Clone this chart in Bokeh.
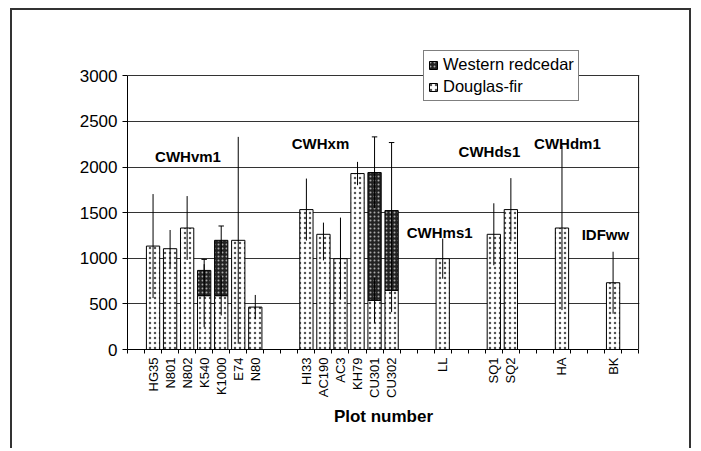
import math
from bokeh.plotting import figure
from bokeh.models import ColumnDataSource, FixedTicker, Range1d, Legend, LegendItem, Label
from bokeh.embed import file_html
from bokeh.resources import INLINE
from bokeh.core.properties import value

# ---- data ----
categories = ["", "HG35", "N801", "N802", "K540", "K1000", "E74", "N80", "", "",
              "HI33", "AC190", "AC3", "KH79", "CU301", "CU302", "", "", "LL", "", "",
              "SQ1", "SQ2", "", "", "HA", "", "", "BK", ""]
plots = ["HG35", "N801", "N802", "K540", "K1000", "E74", "N80", "HI33", "AC190", "AC3",
         "KH79", "CU301", "CU302", "LL", "SQ1", "SQ2", "HA", "BK"]
douglas_fir = [1134, 1105, 1332, 590, 590, 1197, 465, 1534, 1263, 996,
               1929, 538, 648, 996, 1263, 1534, 1332, 732]
western_redcedar = [0, 0, 0, 277, 607, 0, 0, 0, 0, 0,
                    0, 1402, 875, 0, 0, 0, 0, 0]
df_err_low = [570, 205, 350, 345, 217, 1134, 133, 340, 286, 450,
              128, 250, 238, 220, 340, 345, 900, 340]
df_err_high = [570, 205, 350, 345, 217, 1134, 133, 340, 128, 450,
               128, 250, 238, 220, 340, 345, 900, 340]
wrc_err = [0, 0, 0, 121, 157, 0, 0, 0, 0, 0,
           0, 391, 746, 0, 0, 0, 0, 0]
zones = ["CWHvm1", "CWHxm", "CWHms1", "CWHds1", "CWHdm1", "IDFww"]
zone_x = [3.55, 11.33, 18.32, 21.24, 25.82, 28.05]
zone_y = [2119, 2259, 1279, 2174, 2262, 1263]
y_ticks = [0, 500, 1000, 1500, 2000, 2500, 3000]
y_max = 3000

FONT = "Liberation Sans"
n_cat = len(categories)

xpos = [categories.index(name) + 0.5 for name in plots]

df_src = ColumnDataSource(dict(
    x=xpos, top=douglas_fir,
    lo=[d - l for d, l in zip(douglas_fir, df_err_low)],
    hi=[d + h for d, h in zip(douglas_fir, df_err_high)],
))
wi = [i for i, w in enumerate(western_redcedar) if w > 0]
wrc_src = ColumnDataSource(dict(
    x=[xpos[i] for i in wi],
    bottom=[douglas_fir[i] for i in wi],
    top=[douglas_fir[i] + western_redcedar[i] for i in wi],
    lo=[douglas_fir[i] + western_redcedar[i] - wrc_err[i] for i in wi],
    hi=[douglas_fir[i] + western_redcedar[i] + wrc_err[i] for i in wi],
    cx0=[xpos[i] - 0.16 for i in wi],
    cx1=[xpos[i] + 0.16 for i in wi],
))

# outer chart frame drawn as a CSS border of the figure element
frame_css = {"border-top": "2px solid #333333", "border-left": "2px solid #333333",
             "border-right": "2px solid #333333"}

p = figure(width=681, height=440, x_range=Range1d(0, n_cat + 0.05), y_range=Range1d(0, y_max * 1.1),
           output_backend="svg", toolbar_location=None,
           min_border_left=115, min_border_right=54, min_border_top=38, min_border_bottom=101,
           margin=(8, 0, 0, 10), styles=frame_css)

p.outline_line_color = None
p.xgrid.visible = False
p.ygrid.ticker = FixedTicker(ticks=y_ticks)
p.ygrid.grid_line_color = "#333333"
p.ygrid.grid_line_width = 1

# right border of the plot area
p.segment(x0=[n_cat], y0=[0], x1=[n_cat], y1=[y_max], line_color="black", line_width=1)

# bars
df_r = p.vbar(x="x", top="top", bottom=0, width=0.78, source=df_src,
              fill_color="white", line_color="black", line_width=1,
              hatch_pattern="dot", hatch_color="#555555", hatch_scale=5, hatch_weight=1)
wrc_r = p.vbar(x="x", top="top", bottom="bottom", width=0.78, source=wrc_src,
               fill_color="#222222", line_color="black", line_width=1,
               hatch_pattern="dot", hatch_color="#aaaaaa", hatch_scale=4, hatch_weight=1)

# error bars
p.segment(x0="x", y0="lo", x1="x", y1="hi", source=df_src, line_color="black", line_width=1)
p.segment(x0="x", y0="lo", x1="x", y1="hi", source=wrc_src, line_color="black", line_width=1)
p.segment(x0="cx0", y0="hi", x1="cx1", y1="hi", source=wrc_src, line_color="black", line_width=1)

# zone labels
p.text(x=zone_x, y=zone_y, text=zones, text_font=value(FONT), text_font_style="bold",
       text_font_size="15px", text_align="center", text_baseline="middle", text_color="black")

# x axis
xa = p.xaxis[0]
xa.ticker = FixedTicker(ticks=xpos, minor_ticks=list(range(n_cat + 1)))
xa.major_label_overrides = {x: n for x, n in zip(xpos, plots)}
xa.major_tick_out = 0
xa.major_tick_in = 0
xa.minor_tick_out = 4
xa.minor_tick_in = 0
xa.minor_tick_line_color = "black"
xa.axis_line_color = "black"
xa.bounds = (0, n_cat)
xa.major_label_orientation = math.pi / 2
xa.major_label_standoff = 4
xa.major_label_text_font = FONT
xa.major_label_text_font_size = "13px"
xa.major_label_text_color = "black"
xa.axis_label = "Plot number"
xa.axis_label_text_font = FONT
xa.axis_label_text_font_style = "bold"
xa.axis_label_text_font_size = "17px"
xa.axis_label_text_color = "black"
xa.axis_label_standoff = 6

# y axis
ya = p.yaxis[0]
ya.ticker = FixedTicker(ticks=y_ticks)
ya.bounds = (0, y_max)
ya.major_tick_out = 5
ya.major_tick_in = 0
ya.minor_tick_out = 0
ya.minor_tick_in = 0
ya.axis_line_color = "black"
ya.major_tick_line_color = "black"
ya.major_label_standoff = 5
ya.major_label_text_font = FONT
ya.major_label_text_font_size = "17px"
ya.major_label_text_color = "black"

p.add_layout(Label(x=-71, y=83, x_units="screen", y_units="screen", text="Stems/ha (no.)",
                   angle=math.pi / 2, text_align="center", text_baseline="middle",
                   text_font=FONT, text_font_style="bold", text_font_size="18px",
                   text_color="black"))

legend = Legend(items=[LegendItem(label="Western redcedar", renderers=[wrc_r]),
                       LegendItem(label="Douglas-fir", renderers=[df_r])],
                location=(296, 248))
legend.border_line_color = "black"
legend.border_line_width = 1
legend.background_fill_color = "white"
legend.background_fill_alpha = 1
legend.label_text_font = FONT
legend.label_text_font_size = "16.5px"
legend.label_text_color = "black"
legend.glyph_width = 10
legend.glyph_height = 10
legend.label_standoff = 5
legend.label_height = 19
legend.padding = 4
legend.spacing = 3
legend.margin = 0
p.add_layout(legend, "center")

open("out.html", "w").write(file_html(p, INLINE))
